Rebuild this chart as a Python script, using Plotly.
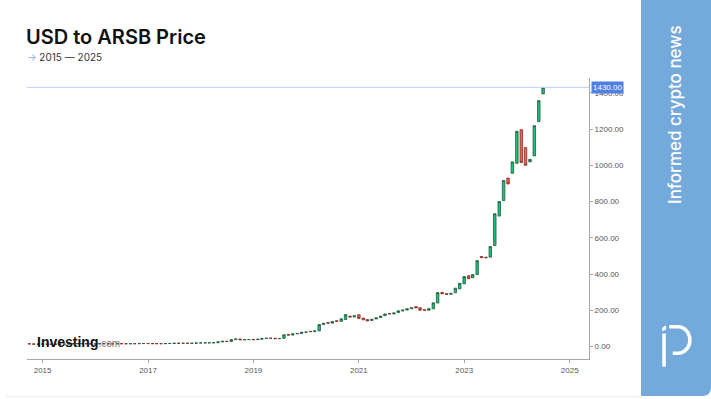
import plotly.graph_objects as go
import pandas as pd

# ---- data (monthly candles, USD -> ARS blue) ----
months = pd.date_range("2014-10-01", "2024-07-01", freq="MS").strftime("%Y-%m-%d").tolist()

opens = [
    15.0, 14.3, 13.0,
    13.6, 13.7, 13.1, 12.7, 12.6, 12.9, 13.6, 14.8, 15.7, 16.0, 15.8, 15.2,
    14.3, 14.2, 15.8, 15.2, 14.6, 14.4, 15.6, 15.5, 15.2, 15.7, 15.5, 16.2,
    16.5, 16.1, 15.9, 15.7, 15.6, 16.3, 16.9, 17.8, 17.5, 17.9, 17.6, 17.9,
    19.3, 20.0, 20.4, 20.5, 20.8, 25.2, 28.9, 27.8, 38.0, 41.5, 37.3, 37.9,
    39.5, 37.6, 40.1, 44.3, 46.0, 45.5, 43.0, 45.0, 66.0, 63.0, 70.0, 72.0,
    79, 84, 82, 86, 121, 132, 129, 142, 139, 149, 168, 163,
    176, 157, 149, 143, 152, 160, 170, 182, 180, 187, 196, 201,
    208, 220, 214, 203, 200, 208, 240, 299, 292, 288, 296, 318,
    346, 391, 379, 397, 497, 493, 493, 557, 720, 805, 930, 956,
    1011, 1197, 1098, 1019, 1052, 1241, 1394,
]
closes = [
    14.3, 13.0, 13.6,
    13.7, 13.1, 12.7, 12.6, 12.9, 13.6, 14.8, 15.7, 16.0, 15.8, 15.2, 14.3,
    14.2, 15.8, 15.2, 14.6, 14.4, 15.5, 15.5, 15.2, 15.7, 15.5, 16.2, 16.5,
    16.1, 15.9, 15.7, 15.6, 16.3, 16.9, 17.8, 17.6, 17.7, 17.6, 17.9, 19.3,
    20.0, 20.4, 20.5, 20.8, 25.2, 28.9, 27.8, 38.0, 41.5, 37.3, 37.9, 38.6,
    37.6, 40.1, 44.3, 45.6, 45.5, 43.0, 44.2, 65.0, 63.0, 70.0, 72.0, 79.0,
    80, 82, 86, 121, 128, 129, 138, 139, 153, 176, 163, 170,
    154, 147, 141, 150, 158, 168, 180, 180, 185, 197, 201, 208,
    214, 213, 200, 200, 209, 241, 298, 291, 288, 293, 322, 349,
    386, 374, 397, 474, 490, 490, 552, 733, 800, 916, 897, 1019,
    1188, 1015, 1000, 1033, 1219, 1357, 1430,
]
highs = [max(o, c) for o, c in zip(opens, closes)]
lows = [min(o, c) for o, c in zip(opens, closes)]

year_ticks = ["2015", "2017", "2019", "2021", "2023", "2025"]
price_ticks = [0, 200, 400, 600, 800, 1000, 1200, 1400]
last_price = 1430

W, H = 711, 399


def px(x, y):
    return x / W, 1 - y / H


fig = go.Figure()
fig.add_trace(go.Candlestick(
    x=months, open=opens, high=highs, low=lows, close=closes,
    increasing=dict(line=dict(color="#245c3e", width=0.8), fillcolor="#17c27a"),
    decreasing=dict(line=dict(color="#8c2d24", width=0.8), fillcolor="#e9645a"),
    showlegend=False, hoverinfo="x+y",
))

x0d, x1d = 27 / W, 589 / W
y0d, y1d = (H - 359) / H, (H - 78) / H

shapes = []
# last price line
shapes.append(dict(type="line", xref="x domain", yref="y", x0=0, x1=1,
                   y0=last_price, y1=last_price, line=dict(color="#bfd2f6", width=1)))

# right blue panel with rounded bottom-right corner
r = 9
p = "M {:.5f},{:.5f} ".format(*px(641, -2))
p += "L {:.5f},{:.5f} ".format(*px(711, -2))
p += "L {:.5f},{:.5f} ".format(*px(711, 396 - r))
p += "Q {:.5f},{:.5f} {:.5f},{:.5f} ".format(*px(711, 396), *px(711 - r, 396))
p += "L {:.5f},{:.5f} Z".format(*px(641, 396))
shapes.append(dict(type="path", xref="paper", yref="paper", path=p,
                   fillcolor="#74a9dc", line=dict(width=0), layer="above"))

# card bottom border
shapes.append(dict(type="line", xref="paper", yref="paper",
                   x0=6 / W, x1=641 / W, y0=1 - 396.5 / H, y1=1 - 396.5 / H,
                   line=dict(color="#e9e9e9", width=1)))


def poly(points):
    return "M " + " L ".join("{:.5f},{:.5f}".format(*px(a, b)) for a, b in points) + " Z"


# logo "iP"
shapes.append(dict(type="path", xref="paper", yref="paper",
                   path=poly([(662.3, 327.8), (666.0, 325.3), (666.0, 329.6), (662.3, 331.5)]),
                   fillcolor="white", line=dict(width=0), layer="above"))
shapes.append(dict(type="path", xref="paper", yref="paper",
                   path=poly([(662.3, 333.5), (665.8, 333.5), (665.8, 366.7), (662.3, 366.7)]),
                   fillcolor="white", line=dict(width=0), layer="above"))
ox0, oy0, ox1, oy1, t = 669.3, 325.0, 691.7, 355.0, 3.6
cx = 678.0
k = 0.5523
ry = (oy1 - oy0) / 2
rx = ox1 - cx
iry = ry - t
irx = rx - t
cy = (oy0 + oy1) / 2
path = "M {:.5f},{:.5f} ".format(*px(ox0, oy0))
path += "L {:.5f},{:.5f} ".format(*px(cx, oy0))
path += "C {:.5f},{:.5f} {:.5f},{:.5f} {:.5f},{:.5f} ".format(*px(cx + k * rx, oy0), *px(ox1, cy - k * ry), *px(ox1, cy))
path += "C {:.5f},{:.5f} {:.5f},{:.5f} {:.5f},{:.5f} ".format(*px(ox1, cy + k * ry), *px(cx + k * rx, oy1), *px(cx, oy1))
path += "L {:.5f},{:.5f} ".format(*px(672.8, oy1))
path += "L {:.5f},{:.5f} ".format(*px(672.8, oy1 - t))
path += "L {:.5f},{:.5f} ".format(*px(cx, oy1 - t))
path += "C {:.5f},{:.5f} {:.5f},{:.5f} {:.5f},{:.5f} ".format(*px(cx + k * irx, oy1 - t), *px(ox1 - t, cy + k * iry), *px(ox1 - t, cy))
path += "C {:.5f},{:.5f} {:.5f},{:.5f} {:.5f},{:.5f} ".format(*px(ox1 - t, cy - k * iry), *px(cx + k * irx, oy0 + t), *px(cx, oy0 + t))
path += "L {:.5f},{:.5f} Z".format(*px(ox0, oy0 + t))
shapes.append(dict(type="path", xref="paper", yref="paper", path=path,
                   fillcolor="white", line=dict(width=0), layer="above"))

annotations = [
    dict(text="USD to ARSB Price", xref="paper", yref="paper",
         x=24 / W, y=1 - 37 / H, xanchor="left", yanchor="middle", showarrow=False,
         font=dict(family="Inter", size=20, color="#111111", weight=600)),
    dict(text="<span style='color:#7fb0e6'>→</span> 2015 — 2025", xref="paper", yref="paper",
         x=25 / W, y=1 - 57 / H, xanchor="left", yanchor="middle", showarrow=False,
         font=dict(family="Inter", size=10, color="#333333")),
    dict(text="Informed crypto news", xref="paper", yref="paper",
         x=675 / W, y=1 - 115 / H, xanchor="center", yanchor="middle", showarrow=False,
         textangle=-90, font=dict(family="Inter", size=17, color="white", weight=500)),
    dict(text="{:.2f}".format(last_price), xref="paper", yref="y",
         x=591 / W, y=last_price, xanchor="left", yanchor="middle", showarrow=False,
         bgcolor="#4e7fe4", borderpad=1,
         font=dict(family="Liberation Sans", size=8, color="white")),
    dict(text="<b>Investing</b><span style='font-size:10px;color:#777777'>.com</span>",
         xref="paper", yref="paper", x=35 / W, y=1 - 342 / H,
         xanchor="left", yanchor="middle", showarrow=False,
         font=dict(family="Liberation Sans", size=14, color="#111111")),
]

fig.update_layout(
    width=W, height=H, autosize=False,
    margin=dict(l=0, r=0, t=0, b=0),
    paper_bgcolor="white", plot_bgcolor="rgba(0,0,0,0)",
    shapes=shapes, annotations=annotations,
    showlegend=False, boxgap=0.12,
    xaxis=dict(
        domain=[x0d, x1d], type="date",
        range=["2014-09-15", "2025-05-15"],
        rangeslider=dict(visible=False),
        tickvals=[y + "-01-01" for y in year_ticks], ticktext=year_ticks,
        showgrid=False, zeroline=False,
        showline=True, linecolor="#a6a6a6", linewidth=1,
        ticks="outside", ticklen=3, tickcolor="#a6a6a6",
        tickfont=dict(family="Liberation Sans", size=8, color="#555555"),
    ),
    yaxis=dict(
        domain=[y0d, y1d], side="right",
        range=[-69, 1482],
        tickvals=price_ticks, ticktext=["{:.2f}".format(v) for v in price_ticks],
        showgrid=False, zeroline=False,
        showline=True, linecolor="#a6a6a6", linewidth=1,
        ticks="outside", ticklen=3, tickcolor="#a6a6a6",
        tickfont=dict(family="Liberation Sans", size=8, color="#555555"),
    ),
)

fig.write_html("out.html", config={"displayModeBar": False},
               post_script="document.body.style.margin='0';document.body.style.overflow='hidden';")
